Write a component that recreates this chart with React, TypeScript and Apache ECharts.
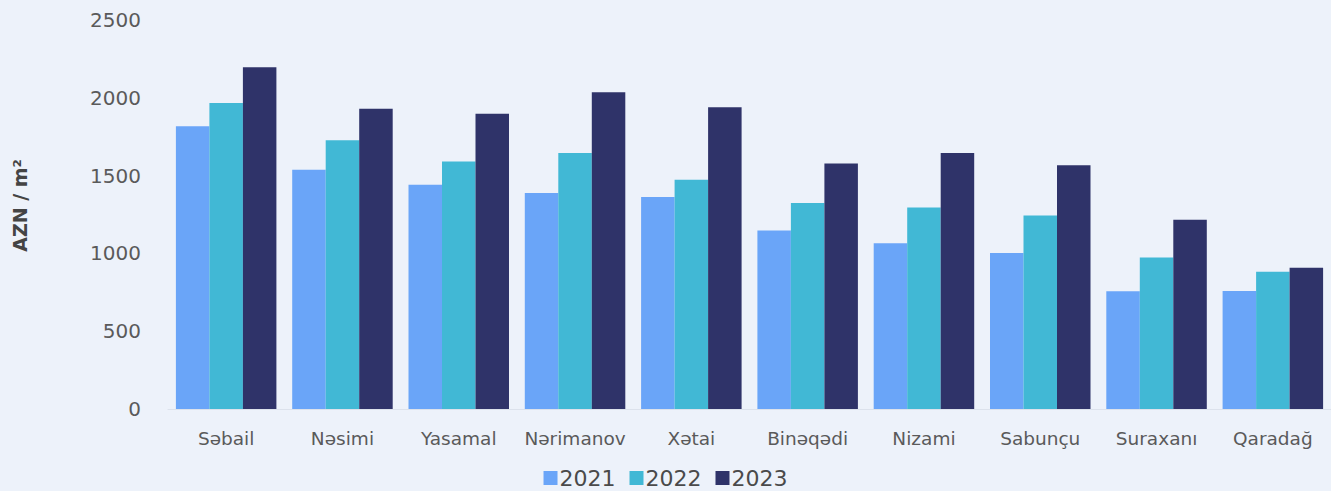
import React, { useEffect, useRef } from "react";
import * as echarts from "echarts";

const categories = ["Səbail", "Nəsimi", "Yasamal", "Nərimanov", "Xətai", "Binəqədi", "Nizami", "Sabunçu", "Suraxanı", "Qaradağ"];
const values2021 = [1817, 1538, 1441, 1388, 1362, 1147, 1066, 1002, 757, 759];
const values2022 = [1967, 1727, 1591, 1645, 1474, 1324, 1295, 1244, 974, 882];
const values2023 = [2196, 1929, 1898, 2035, 1939, 1577, 1645, 1566, 1216, 907];
const seriesNames = ["2021", "2022", "2023"];
const seriesColors = ["#6AA5F8", "#41B8D5", "#2F3369"];
const yTicks = { min: 0, max: 2500, interval: 500 };

const FONT = "'DejaVu Sans', 'Noto Sans', sans-serif";

export default function App() {
  const ref = useRef<HTMLDivElement>(null);
  useEffect(() => {
    if (!ref.current) return;
    const chart = echarts.init(ref.current, null, { renderer: "svg" });
    const data = [values2021, values2022, values2023];
    chart.setOption({
      animation: false,
      backgroundColor: "#EDF2FA",
      textStyle: { fontFamily: FONT },
      grid: { left: 168, top: 20, width: 1168, bottom: 82, containLabel: false },
      legend: {
        top: 462,
        left: "center",
        itemWidth: 14,
        itemHeight: 14,
        itemGap: 14,
        icon: "rect",
        textStyle: { fontSize: 22, color: "#4a4a4a", fontFamily: FONT, padding: [0, 0, 0, -3] },
        data: seriesNames,
      },
      xAxis: {
        type: "category",
        data: categories,
        axisTick: { show: false },
        axisLine: { show: true, lineStyle: { color: "#DCE2EC", width: 1 } },
        axisLabel: { color: "#5a5a5a", fontSize: 18.5, margin: 20, interval: 0, fontFamily: FONT },
      },
      yAxis: {
        type: "value",
        min: yTicks.min,
        max: yTicks.max,
        interval: yTicks.interval,
        splitLine: { show: false },
        axisLine: { show: false },
        axisTick: { show: false },
        axisLabel: {
          color: "#5a5a5a",
          fontSize: 20,
          margin: 27,
          fontFamily: FONT,
          formatter: (v: number) => String(v),
        },
        name: "AZN / m²",
        nameLocation: "middle",
        nameGap: 139,
        nameRotate: 90,
        nameTextStyle: { fontSize: 19, fontWeight: "bold", color: "#444", fontFamily: FONT, padding: [0, 0, 0, 18] },
      },
      series: seriesNames.map((n, i) => ({
        name: n,
        type: "bar",
        data: data[i],
        barWidth: 33.5,
        barGap: "0%",
        itemStyle: { color: seriesColors[i] },
      })),
    });
    return () => chart.dispose();
  }, []);
  return <div ref={ref} style={{ position: "fixed", left: 0, top: 0, width: 1331, height: 491 }} />;
}
